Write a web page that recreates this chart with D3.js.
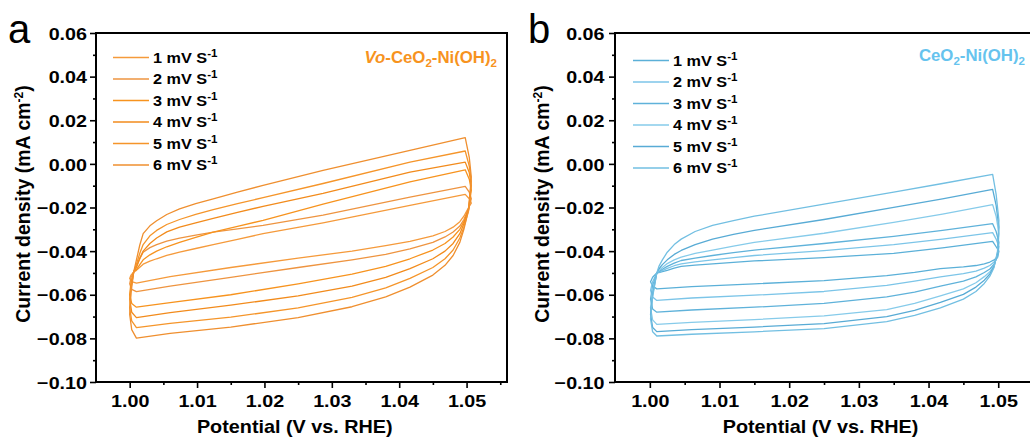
<!DOCTYPE html>
<html>
<head>
<meta charset="utf-8">
<script src="https://cdn.jsdelivr.net/npm/d3@7"></script>
<style>
  html, body { margin: 0; padding: 0; background: #ffffff; overflow: hidden; }
  svg { display: block; }
  text { font-family: "Liberation Sans", Arial, Helvetica, sans-serif; }
</style>
</head>
<body>
<svg id="fig" width="1030" height="439"></svg>
<script>
// ---- data -------------------------------------------------------------
const scanRates = ["1", "2", "3", "4", "5", "6"];

// Vo-CeO2-Ni(OH)2: potential sampled around each closed CV loop
// (anodic sweep, upper turn, cathodic sweep, lower turn)
const potentialA = [
  1.0006, 1.0010, 1.0015, 1.0020, 1.0030, 1.0040, 1.0055, 1.0074, 1.0098, 1.0124, 1.0160, 1.0198, 1.0287, 1.0416, 1.0498,
  1.0504, 1.0507, 1.0503,
  1.0496, 1.0490, 1.0480, 1.0468, 1.0450, 1.0416, 1.0380, 1.0330, 1.0250, 1.0150, 1.0060, 1.0010,
  1.0003, 1.0000, 1.0002, 1.0006];
const vo1 = [
  -0.0495, -0.0488, -0.0474, -0.0460, -0.0446, -0.0435, -0.0420, -0.0405, -0.0388, -0.0370, -0.0346, -0.0320, -0.0270, -0.0190, -0.0140,
  -0.0160, -0.0180, -0.0200,
  -0.0240, -0.0265, -0.0290, -0.0310, -0.0330, -0.0355, -0.0375, -0.0400, -0.0432, -0.0475, -0.0517, -0.0547,
  -0.0540, -0.0525, -0.0510, -0.0495];
const vo2 = [
  -0.0495, -0.0475, -0.0435, -0.0405, -0.0384, -0.0370, -0.0354, -0.0340, -0.0327, -0.0313, -0.0298, -0.0282, -0.0235, -0.0152, -0.0103,
  -0.0130, -0.0160, -0.0205,
  -0.0255, -0.0285, -0.0312, -0.0335, -0.0360, -0.0390, -0.0415, -0.0440, -0.0475, -0.0520, -0.0560, -0.0586,
  -0.0575, -0.0550, -0.0520, -0.0495];
const vo3 = [
  -0.0495, -0.0485, -0.0462, -0.0440, -0.0417, -0.0400, -0.0380, -0.0360, -0.0337, -0.0313, -0.0286, -0.0259, -0.0185, -0.0083, -0.0027,
  -0.0070, -0.0120, -0.0210,
  -0.0265, -0.0300, -0.0335, -0.0365, -0.0395, -0.0435, -0.0470, -0.0505, -0.0550, -0.0600, -0.0636, -0.0657,
  -0.0640, -0.0600, -0.0540, -0.0495];
const vo4 = [
  -0.0495, -0.0470, -0.0432, -0.0400, -0.0365, -0.0340, -0.0312, -0.0290, -0.0270, -0.0250, -0.0222, -0.0195, -0.0135, -0.0038, 0.0008,
  -0.0040, -0.0100, -0.0205,
  -0.0275, -0.0320, -0.0365, -0.0400, -0.0435, -0.0480, -0.0520, -0.0560, -0.0605, -0.0648, -0.0682, -0.0705,
  -0.0680, -0.0620, -0.0560, -0.0495];
const vo5 = [
  -0.0495, -0.0460, -0.0410, -0.0370, -0.0330, -0.0305, -0.0278, -0.0255, -0.0232, -0.0210, -0.0182, -0.0155, -0.0090, 0.0008, 0.0059,
  -0.0010, -0.0080, -0.0215,
  -0.0290, -0.0340, -0.0395, -0.0435, -0.0475, -0.0525, -0.0568, -0.0612, -0.0660, -0.0703, -0.0731, -0.0751,
  -0.0720, -0.0660, -0.0570, -0.0495];
const vo6 = [
  -0.0495, -0.0440, -0.0372, -0.0320, -0.0284, -0.0261, -0.0232, -0.0206, -0.0182, -0.0160, -0.0129, -0.0099, -0.0030, 0.0062, 0.0120,
  0.0030, -0.0060, -0.0210,
  -0.0300, -0.0360, -0.0420, -0.0465, -0.0510, -0.0565, -0.0610, -0.0655, -0.0705, -0.0748, -0.0777, -0.0799,
  -0.0760, -0.0690, -0.0590, -0.0495];

// CeO2-Ni(OH)2
const potentialB = [
  1.0010, 1.0013, 1.0018, 1.0025, 1.0035, 1.0045, 1.0065, 1.0090, 1.0120, 1.0150, 1.0250, 1.0350, 1.0420, 1.0492,
  1.0497, 1.0501, 1.0499,
  1.0494, 1.0488, 1.0480, 1.0468, 1.0450, 1.0417, 1.0380, 1.0340, 1.0250, 1.0150, 1.0060, 1.0010,
  1.0004, 1.0001, 1.0004, 1.0010];
const ce1 = [
  -0.0500, -0.0498, -0.0494, -0.0488, -0.0478, -0.0470, -0.0464, -0.0458, -0.0452, -0.0445, -0.0430, -0.0410, -0.0385, -0.0355,
  -0.0380, -0.0400, -0.0430,
  -0.0440, -0.0450, -0.0458, -0.0466, -0.0472, -0.0480, -0.0497, -0.0512, -0.0535, -0.0550, -0.0563, -0.0573,
  -0.0560, -0.0540, -0.0520, -0.0500];
const ce2 = [
  -0.0500, -0.0496, -0.0489, -0.0479, -0.0467, -0.0458, -0.0449, -0.0440, -0.0430, -0.0420, -0.0398, -0.0370, -0.0345, -0.0315,
  -0.0345, -0.0380, -0.0425,
  -0.0450, -0.0466, -0.0478, -0.0492, -0.0503, -0.0518, -0.0538, -0.0557, -0.0585, -0.0602, -0.0615, -0.0626,
  -0.0610, -0.0580, -0.0540, -0.0500];
const ce3 = [
  -0.0500, -0.0494, -0.0483, -0.0470, -0.0455, -0.0443, -0.0432, -0.0420, -0.0407, -0.0395, -0.0365, -0.0332, -0.0305, -0.0274,
  -0.0310, -0.0360, -0.0420,
  -0.0460, -0.0482, -0.0498, -0.0518, -0.0538, -0.0560, -0.0588, -0.0610, -0.0640, -0.0657, -0.0670, -0.0680,
  -0.0665, -0.0620, -0.0560, -0.0500];
const ce4 = [
  -0.0500, -0.0490, -0.0475, -0.0457, -0.0440, -0.0428, -0.0410, -0.0395, -0.0377, -0.0360, -0.0318, -0.0268, -0.0230, -0.0187,
  -0.0240, -0.0320, -0.0415,
  -0.0465, -0.0495, -0.0517, -0.0545, -0.0573, -0.0605, -0.0640, -0.0668, -0.0697, -0.0714, -0.0727, -0.0736,
  -0.0715, -0.0660, -0.0580, -0.0500];
const ce5 = [
  -0.0500, -0.0482, -0.0462, -0.0440, -0.0415, -0.0397, -0.0370, -0.0345, -0.0323, -0.0305, -0.0255, -0.0199, -0.0160, -0.0117,
  -0.0190, -0.0290, -0.0410,
  -0.0470, -0.0505, -0.0533, -0.0565, -0.0598, -0.0635, -0.0672, -0.0700, -0.0732, -0.0748, -0.0760, -0.0769,
  -0.0750, -0.0690, -0.0600, -0.0500];
const ce6 = [
  -0.0500, -0.0470, -0.0440, -0.0405, -0.0370, -0.0345, -0.0310, -0.0282, -0.0260, -0.0240, -0.0185, -0.0130, -0.0090, -0.0048,
  -0.0140, -0.0260, -0.0400,
  -0.0475, -0.0515, -0.0548, -0.0585, -0.0620, -0.0660, -0.0695, -0.0723, -0.0755, -0.0770, -0.0781, -0.0789,
  -0.0770, -0.0710, -0.0610, -0.0500];

const yTicks = [0.06, 0.04, 0.02, 0.00, -0.02, -0.04, -0.06, -0.08, -0.10];
const xTicks = [1.00, 1.01, 1.02, 1.03, 1.04, 1.05];

// ---- styles -----------------------------------------------------------
const colorsA = ["#F59A3B", "#EE9440", "#F7931E", "#F28B1C", "#F5952A", "#EF8F2F"];
const colorsB = ["#5BB0D8", "#7CC5E8", "#5FB2DA", "#86CBEA", "#58ABD5", "#72BFE2"];
const SX = 1.16; // horizontal text stretch

const svg = d3.select("#fig");

function drawPanel(cfg) {
  const x = d3.scaleLinear().domain(cfg.xDomain).range([cfg.left, cfg.right]);
  const y = d3.scaleLinear().domain([-0.10, 0.06]).range([cfg.bottom, cfg.top]);
  const g = svg.append("g");

  // CV loops
  const line = d3.line().x(d => x(d[0])).y(d => y(d[1])).curve(d3.curveLinear);
  cfg.series.forEach((s, i) => {
    g.append("path")
      .datum(d3.zip(cfg.potential, s))
      .attr("d", line)
      .attr("fill", "none")
      .attr("stroke", cfg.colors[i])
      .attr("stroke-width", 1.3)
      .attr("stroke-linejoin", "round");
  });

  // frame (the right edge of panel b runs past the page)
  const frame = g.append("g").attr("stroke", "#000").attr("stroke-width", 2).attr("fill", "none");
  frame.append("line").attr("x1", cfg.left).attr("x2", cfg.right).attr("y1", cfg.top).attr("y2", cfg.top);
  frame.append("line").attr("x1", cfg.left).attr("x2", cfg.right).attr("y1", cfg.bottom).attr("y2", cfg.bottom);
  frame.append("line").attr("x1", cfg.left).attr("x2", cfg.left).attr("y1", cfg.top - 1).attr("y2", cfg.bottom + 1);
  if (cfg.rightEdge) {
    frame.append("line").attr("x1", cfg.right).attr("x2", cfg.right).attr("y1", cfg.top - 1).attr("y2", cfg.bottom + 1);
  }

  // y axis: major + minor ticks
  const yMinor = d3.range(0.05, -0.0951, -0.02);
  const yAxisMinor = d3.axisLeft(y).tickValues(yMinor).tickSize(3).tickFormat("");
  const yAxis = d3.axisLeft(y).tickValues(yTicks).tickSize(6).tickFormat(d3.format(".2f"));
  g.append("g").attr("transform", `translate(${cfg.left},0)`).call(yAxisMinor)
    .call(a => a.select(".domain").remove())
    .selectAll("line").attr("stroke-width", 1.6);
  const ya = g.append("g").attr("transform", `translate(${cfg.left},0)`).call(yAxis);
  ya.select(".domain").remove();
  ya.selectAll("line").attr("stroke-width", 1.6);
  ya.selectAll("text")
    .attr("font-size", 17).attr("font-weight", "bold").attr("fill", "#000")
    .attr("x", -cfg.yLabelGap / SX).attr("dy", "0.36em")
    .attr("transform", `scale(${SX},1)`);

  // x axis: major + minor ticks
  const xMinor = d3.range(1.005, 1.0561, 0.01);
  const xAxisMinor = d3.axisBottom(x).tickValues(xMinor).tickSize(3).tickFormat("");
  const xAxis = d3.axisBottom(x).tickValues(xTicks).tickSize(6).tickFormat(d3.format(".2f"));
  g.append("g").attr("transform", `translate(0,${cfg.bottom})`).call(xAxisMinor)
    .call(a => a.select(".domain").remove())
    .selectAll("line").attr("stroke-width", 1.6);
  const xa = g.append("g").attr("transform", `translate(0,${cfg.bottom})`).call(xAxis);
  xa.select(".domain").remove();
  xa.selectAll("line").attr("stroke-width", 1.6);
  xa.selectAll("text")
    .attr("font-size", 17).attr("font-weight", "bold").attr("fill", "#000")
    .attr("y", 25).attr("dy", 0).attr("x", 0)
    .attr("text-anchor", "middle")
    .attr("transform", `scale(${SX},1)`);

  // axis titles
  g.append("text")
    .attr("transform", `translate(${x(1.0245)},433) scale(1.1,1)`)
    .attr("text-anchor", "middle").attr("font-size", 18).attr("font-weight", "bold")
    .text("Potential (V vs. RHE)");
  const yt = g.append("text")
    .attr("transform", `translate(${cfg.left - 66},204) rotate(-90)`)
    .attr("text-anchor", "middle").attr("font-size", 19.5).attr("font-weight", "bold");
  yt.append("tspan").text("Current density (mA cm");
  yt.append("tspan").attr("font-size", 12).attr("dy", -7).text("-2");
  yt.append("tspan").attr("dy", 7).text(")");

  // panel letter
  g.append("text").attr("x", cfg.letterX).attr("y", 43)
    .attr("font-size", 40).attr("fill", "#000").text(cfg.letter);

  // sample name
  const t = g.append("text")
    .attr("transform", `translate(${cfg.titleX},${cfg.titleY}) scale(1.05,1)`)
    .attr("text-anchor", "end").attr("font-size", 16).attr("font-weight", "bold")
    .attr("fill", cfg.titleColor);
  cfg.title.forEach(p => {
    const ts = t.append("tspan").text(p.t);
    if (p.italic) ts.attr("font-style", "italic");
    if (p.sub) ts.attr("font-size", 11).attr("dy", 4);
    if (p.up) ts.attr("dy", -4);
  });

  // legend
  scanRates.forEach((r, i) => {
    const yy = cfg.legendY + i * 21.5;
    g.append("line")
      .attr("x1", cfg.legendX).attr("x2", cfg.legendX + 36)
      .attr("y1", yy).attr("y2", yy)
      .attr("stroke", cfg.colors[i]).attr("stroke-width", 1.6);
    const lt = g.append("text")
      .attr("transform", `translate(${cfg.legendX + 40},${yy + 5}) scale(${SX},1)`)
      .attr("font-size", 14).attr("font-weight", "bold").attr("fill", "#000");
    lt.append("tspan").text(`${r} mV S`);
    lt.append("tspan").attr("font-size", 10).attr("dy", -6).text("-1");
  });
}

drawPanel({
  left: 96, right: 507, top: 33, bottom: 382, xDomain: [0.995, 1.056], rightEdge: true,
  potential: potentialA, series: [vo1, vo2, vo3, vo4, vo5, vo6], colors: colorsA,
  yLabelGap: 9, letter: "a", letterX: 8,
  title: [{ t: "Vo", italic: true }, { t: "-CeO" }, { t: "2", sub: true }, { t: "-Ni(OH)", up: true }, { t: "2", sub: true }],
  titleX: 497, titleY: 63, titleColor: "#F7931E",
  legendX: 113, legendY: 57.5
});

drawPanel({
  left: 615, right: 1047, top: 33, bottom: 382, xDomain: [0.995, 1.057], rightEdge: false,
  potential: potentialB, series: [ce1, ce2, ce3, ce4, ce5, ce6], colors: colorsB,
  yLabelGap: 10.5, letter: "b", letterX: 528,
  title: [{ t: "CeO" }, { t: "2", sub: true }, { t: "-Ni(OH)", up: true }, { t: "2", sub: true }],
  titleX: 1025, titleY: 61, titleColor: "#66C3EE",
  legendX: 633, legendY: 60.5
});
</script>
</body>
</html>
